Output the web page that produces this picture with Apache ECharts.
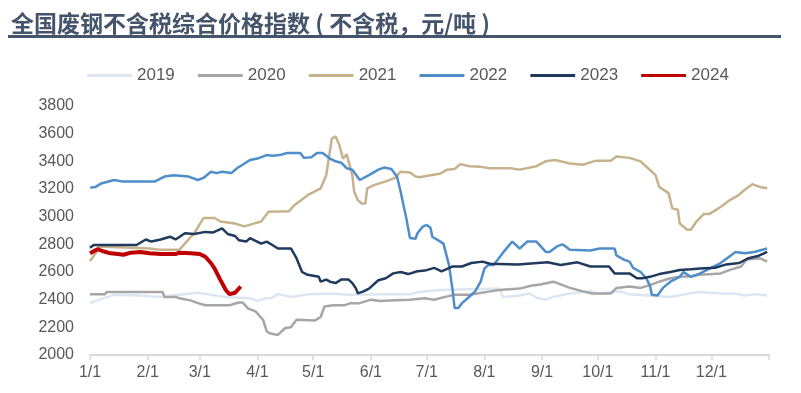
<!DOCTYPE html>
<html><head><meta charset="utf-8">
<script src="https://cdn.jsdelivr.net/npm/echarts@6/dist/echarts.min.js"></script>
<style>html,body{margin:0;padding:0;background:#fff}#c{width:801px;height:393px}</style>
</head><body><div id="c"></div>
<script>
const titleText = '全国废钢不含税综合价格指数 ( 不含税，元/吨 )';
const seriesNames = ['2019','2020','2021','2022','2023','2024'];
const monthTicks = [0,31,59,90,120,151,181,212,243,273,304,334,365];
const monthLabels = ['1/1','2/1','3/1','4/1','5/1','6/1','7/1','8/1','9/1','10/1','11/1','12/1',''];
const yTicks = [2000,2200,2400,2600,2800,3000,3200,3400,3600,3800];

const days2019 = [0,5,13,27,38,48,58,65,73,86,90,94,97,101,108,118,129,140,156,172,177,188,204,220,222,231,236,241,245,249,258,269,274,285,290,312,322,328,339,347,352,358,364];
const vals2019 = [2375,2400,2435,2430,2420,2435,2450,2435,2420,2410,2390,2410,2410,2440,2420,2440,2445,2435,2440,2440,2455,2470,2475,2480,2420,2430,2445,2410,2400,2420,2445,2460,2445,2460,2440,2420,2445,2455,2445,2445,2430,2440,2430];

const days2020 = [0,8,9,39,40,46,48,54,58,62,75,80,82,85,89,93,95,97,101,102,105,108,111,121,124,126,131,137,140,145,151,156,164,172,180,185,191,196,204,215,220,231,237,242,249,253,258,265,270,280,283,290,296,301,306,312,317,323,328,339,344,350,353,360,364];
const vals2020 = [2440,2440,2455,2455,2420,2420,2410,2395,2375,2360,2360,2380,2380,2335,2315,2255,2170,2155,2145,2145,2195,2200,2255,2250,2275,2350,2360,2360,2375,2375,2400,2390,2395,2400,2410,2400,2420,2435,2435,2460,2470,2480,2500,2510,2530,2510,2485,2460,2445,2445,2485,2495,2485,2505,2530,2555,2565,2570,2580,2590,2615,2640,2690,2700,2675];

const days2021 = [0,3,5,32,38,48,51,56,61,67,70,78,83,88,92,96,107,110,117,124,127,130,132,134,136,138,141,142,144,146,148,149,153,159,164,167,172,175,177,183,188,192,196,199,204,210,215,226,231,240,245,250,258,265,272,280,283,290,296,300,304,306,311,313,316,317,321,323,326,330,333,339,344,348,352,356,360,364];
const vals2021 = [2680,2735,2785,2770,2760,2760,2805,2880,2990,2990,2965,2950,2930,2950,2965,3035,3040,3085,3155,3205,3300,3565,3580,3520,3420,3450,3300,3180,3120,3095,3095,3205,3230,3255,3280,3325,3320,3290,3285,3300,3310,3340,3345,3380,3365,3360,3350,3350,3340,3365,3400,3410,3385,3375,3405,3405,3435,3425,3400,3350,3300,3215,3170,3060,3050,2950,2905,2905,2965,3020,3020,3070,3120,3150,3195,3235,3215,3205];

const days2022 = [0,3,6,13,17,35,40,45,53,58,61,65,68,71,76,79,82,86,90,95,98,102,106,113,115,119,122,125,129,132,135,138,141,145,150,155,158,162,163,165,167,170,172,175,176,179,181,183,184,187,190,193,195,196,198,200,203,207,210,212,214,217,222,227,231,235,240,245,247,251,254,258,269,274,282,283,287,290,292,296,299,301,302,305,308,312,317,319,323,328,333,339,347,352,357,364];
const vals2022 = [3210,3215,3240,3265,3255,3255,3290,3300,3290,3265,3280,3325,3315,3325,3315,3350,3375,3410,3420,3445,3440,3445,3460,3460,3425,3430,3460,3460,3420,3400,3390,3350,3340,3265,3300,3340,3355,3345,3340,3290,3180,2990,2845,2840,2880,2930,2940,2920,2855,2830,2805,2650,2460,2340,2340,2375,2410,2460,2530,2625,2650,2650,2740,2820,2770,2820,2820,2745,2745,2785,2800,2760,2755,2770,2770,2720,2690,2675,2630,2600,2555,2500,2435,2430,2485,2530,2565,2600,2565,2590,2625,2665,2745,2735,2745,2770];

const days2023 = [0,2,25,30,33,38,43,46,51,56,62,66,71,74,78,80,84,86,92,95,98,101,108,111,114,117,123,124,127,129,132,135,139,141,143,144,147,150,155,159,163,167,171,176,180,185,189,195,200,205,211,215,230,246,253,262,269,279,282,290,291,294,297,301,306,312,317,323,328,336,342,349,354,359,364];
const vals2023 = [2775,2795,2795,2835,2820,2835,2855,2835,2880,2875,2890,2885,2915,2875,2860,2830,2820,2845,2805,2820,2795,2770,2770,2700,2600,2580,2565,2530,2545,2530,2520,2545,2545,2520,2480,2445,2460,2480,2540,2555,2590,2600,2585,2605,2610,2630,2605,2640,2640,2665,2675,2660,2655,2670,2650,2670,2640,2640,2590,2590,2585,2555,2555,2565,2585,2600,2615,2620,2625,2630,2655,2665,2700,2715,2745];

const days2024 = [0,4,7,11,15,18,22,27,32,38,46,48,54,59,62,65,67,70,73,75,78,81];
const vals2024 = [2735,2765,2750,2735,2730,2725,2740,2745,2735,2730,2730,2740,2735,2730,2710,2665,2625,2545,2470,2440,2450,2495];

const allDays = [days2019,days2020,days2021,days2022,days2023,days2024];
const allVals = [vals2019,vals2020,vals2021,vals2022,vals2023,vals2024];
const colors = ['#dce6f2','#a6a6a6','#c6b38e','#4f8dcb','#1f3a5d','#c00000'];
const widths = [2.5,2.5,2.5,2.5,2.5,4];

const chart = echarts.init(document.getElementById('c'), null, {renderer:'canvas'});
const series = seriesNames.map((n,i)=>({
  name:n, type:'line', showSymbol:false, symbol:'none',
  data: allDays[i].map((d,k)=>[d, allVals[i][k]]),
  lineStyle:{color:colors[i], width:widths[i]}, itemStyle:{color:colors[i]},
  z: 2+i, animation:false
}));
chart.setOption({
  animation:false,
  title:{text:titleText, left:6, top:7, textStyle:{fontSize:23, fontWeight:'bold', color:'#44546a', fontFamily:'"Noto Sans CJK SC", sans-serif'}},
  graphic:[{type:'rect', shape:{x:8, y:35, width:773, height:3}, style:{fill:'#44546a'}}],
  legend:{left:82, top:62, itemWidth:45, itemHeight:3, itemGap:23, icon:'roundRect',
    textStyle:{fontSize:17, color:'#595959', fontFamily:'Arial, "Liberation Sans", sans-serif'}, data:seriesNames},
  grid:{left:90, right:32, top:106, bottom:38, containLabel:false},
  xAxis:{type:'value', min:0, max:365,
    axisLine:{show:true, lineStyle:{color:'#d9d9d9', width:2}},
    axisTick:{show:true, customValues:monthTicks, length:5, lineStyle:{color:'#d9d9d9', width:1.5}},
    axisLabel:{customValues:monthTicks.slice(0,12), formatter:v=>monthLabels[monthTicks.indexOf(v)], color:'#595959', fontSize:16, margin:10, fontFamily:'Arial, "Liberation Sans", sans-serif'},
    splitLine:{show:false}},
  yAxis:{type:'value', min:yTicks[0], max:yTicks[yTicks.length-1], interval:200,
    axisLine:{show:false}, axisTick:{show:false}, splitLine:{show:false},
    axisLabel:{color:'#595959', fontSize:16, margin:16, formatter:v=>String(v), fontFamily:'Arial, "Liberation Sans", sans-serif'}},
  series: series
});
</script></body></html>
